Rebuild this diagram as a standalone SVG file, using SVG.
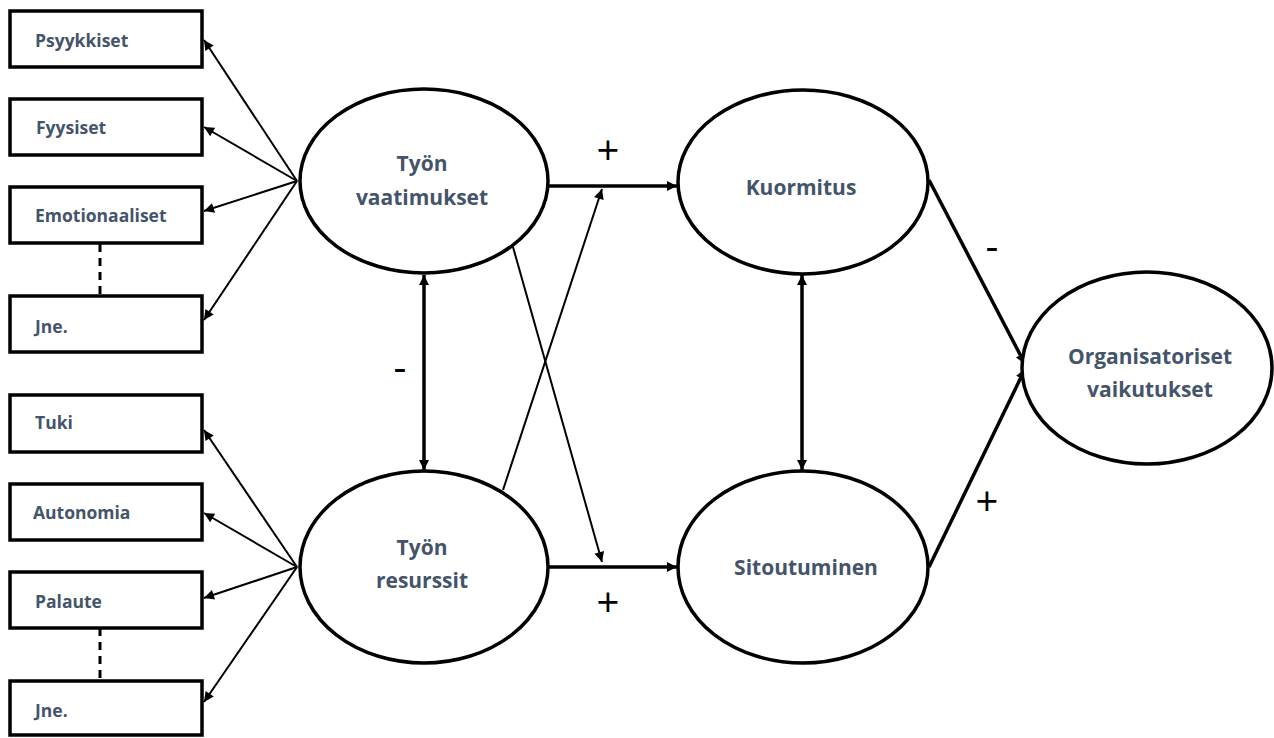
<svg xmlns="http://www.w3.org/2000/svg" width="1274" height="738" viewBox="0 0 1274 738">
<defs>
<style>
.box{fill:#fff;stroke:#000;stroke-width:3.5}
.ell{fill:#fff;stroke:#000;stroke-width:3.5}
.bt{font-family:"Open Sans","Liberation Sans",sans-serif;font-weight:bold;font-size:17.5px;fill:#44546A}
.et{font-family:"Open Sans","Liberation Sans",sans-serif;font-weight:bold;font-size:21px;fill:#44546A;text-anchor:middle}
.thin{stroke:#000;stroke-width:2;fill:none}
.thick{stroke:#000;stroke-width:3.5;fill:none}
.dash{stroke:#000;stroke-width:3;stroke-dasharray:8,6;fill:none}
.sign{font-family:"Open Sans","Liberation Sans",sans-serif;font-weight:400;font-size:40px;fill:#000;text-anchor:middle}
</style>
<marker id="ah" viewBox="0 0 10 10" refX="10" refY="5" markerWidth="12" markerHeight="10" markerUnits="userSpaceOnUse" orient="auto-start-reverse">
<path d="M0,0 L10,5 L0,10 z" fill="#000"/>
</marker>
</defs>
<rect width="1274" height="738" fill="#fff"/>

<g id="connectors">
<line class="thin" x1="297" y1="181" x2="204" y2="40" marker-end="url(#ah)"/>
<line class="thin" x1="297" y1="181" x2="204" y2="127" marker-end="url(#ah)"/>
<line class="thin" x1="297" y1="181" x2="204" y2="211" marker-end="url(#ah)"/>
<line class="thin" x1="297" y1="181" x2="204" y2="320" marker-end="url(#ah)"/>
<line class="thin" x1="297" y1="567" x2="204" y2="430" marker-end="url(#ah)"/>
<line class="thin" x1="297" y1="567" x2="204" y2="513" marker-end="url(#ah)"/>
<line class="thin" x1="297" y1="567" x2="204" y2="598" marker-end="url(#ah)"/>
<line class="thin" x1="297" y1="567" x2="204" y2="702" marker-end="url(#ah)"/>
<line class="dash" x1="100" y1="244" x2="100" y2="295"/>
<line class="dash" x1="100" y1="628" x2="100" y2="680"/>
<line class="thick" x1="548" y1="186" x2="677" y2="186" marker-end="url(#ah)"/>
<line class="thick" x1="548" y1="567" x2="677" y2="567" marker-end="url(#ah)"/>
<line class="thick" x1="424" y1="275" x2="424" y2="470" marker-start="url(#ah)" marker-end="url(#ah)"/>
<line class="thick" x1="802" y1="275" x2="802" y2="470" marker-start="url(#ah)" marker-end="url(#ah)"/>
<line class="thin" x1="503" y1="490" x2="602" y2="189" marker-end="url(#ah)"/>
<line class="thin" x1="513" y1="247" x2="602" y2="562" marker-end="url(#ah)"/>
<line class="thick" x1="929" y1="180" x2="1025" y2="364" marker-end="url(#ah)"/>
<line class="thick" x1="929" y1="567" x2="1025" y2="369" marker-end="url(#ah)"/>
<text class="sign" x="608" y="165">+</text>
<text class="sign" x="608" y="617">+</text>
<text class="sign" x="400" y="381">-</text>
<text class="sign" x="992" y="260">-</text>
<text class="sign" x="987" y="516">+</text>
</g>

<g id="n-psyykkiset"><rect class="box" x="10" y="11" width="192" height="56"/><text class="bt" x="35" y="47">Psyykkiset</text></g>
<g id="n-fyysiset"><rect class="box" x="10" y="99" width="192" height="56"/><text class="bt" x="36" y="134">Fyysiset</text></g>
<g id="n-emotionaaliset"><rect class="box" x="10" y="187" width="192" height="56"/><text class="bt" x="35" y="222">Emotionaaliset</text></g>
<g id="n-jne1"><rect class="box" x="10" y="296" width="192" height="56"/><text class="bt" x="35" y="333">Jne.</text></g>
<g id="n-tuki"><rect class="box" x="10" y="395" width="192" height="57"/><text class="bt" x="35" y="429">Tuki</text></g>
<g id="n-autonomia"><rect class="box" x="10" y="484" width="192" height="56"/><text class="bt" x="33" y="519">Autonomia</text></g>
<g id="n-palaute"><rect class="box" x="10" y="572" width="192" height="56"/><text class="bt" x="35" y="608">Palaute</text></g>
<g id="n-jne2"><rect class="box" x="10" y="681" width="192" height="54"/><text class="bt" x="35" y="717">Jne.</text></g>

<g id="n-vaatimukset"><ellipse class="ell" cx="424" cy="181" rx="124" ry="92"/><text class="et" x="422" y="171">Työn</text><text class="et" x="422" y="205">vaatimukset</text></g>
<g id="n-resurssit"><ellipse class="ell" cx="424" cy="567" rx="124" ry="96"/><text class="et" x="422" y="555">Työn</text><text class="et" x="422" y="588">resurssit</text></g>
<g id="n-kuormitus"><ellipse class="ell" cx="803" cy="182" rx="125" ry="92"/><text class="et" x="801" y="195">Kuormitus</text></g>
<g id="n-sitoutuminen"><ellipse class="ell" cx="803" cy="567" rx="125" ry="96"/><text class="et" x="806" y="575">Sitoutuminen</text></g>
<g id="n-organisatoriset"><ellipse class="ell" cx="1147" cy="368" rx="125" ry="96"/><text class="et" x="1150" y="364">Organisatoriset</text><text class="et" x="1150" y="397">vaikutukset</text></g>
</svg>
